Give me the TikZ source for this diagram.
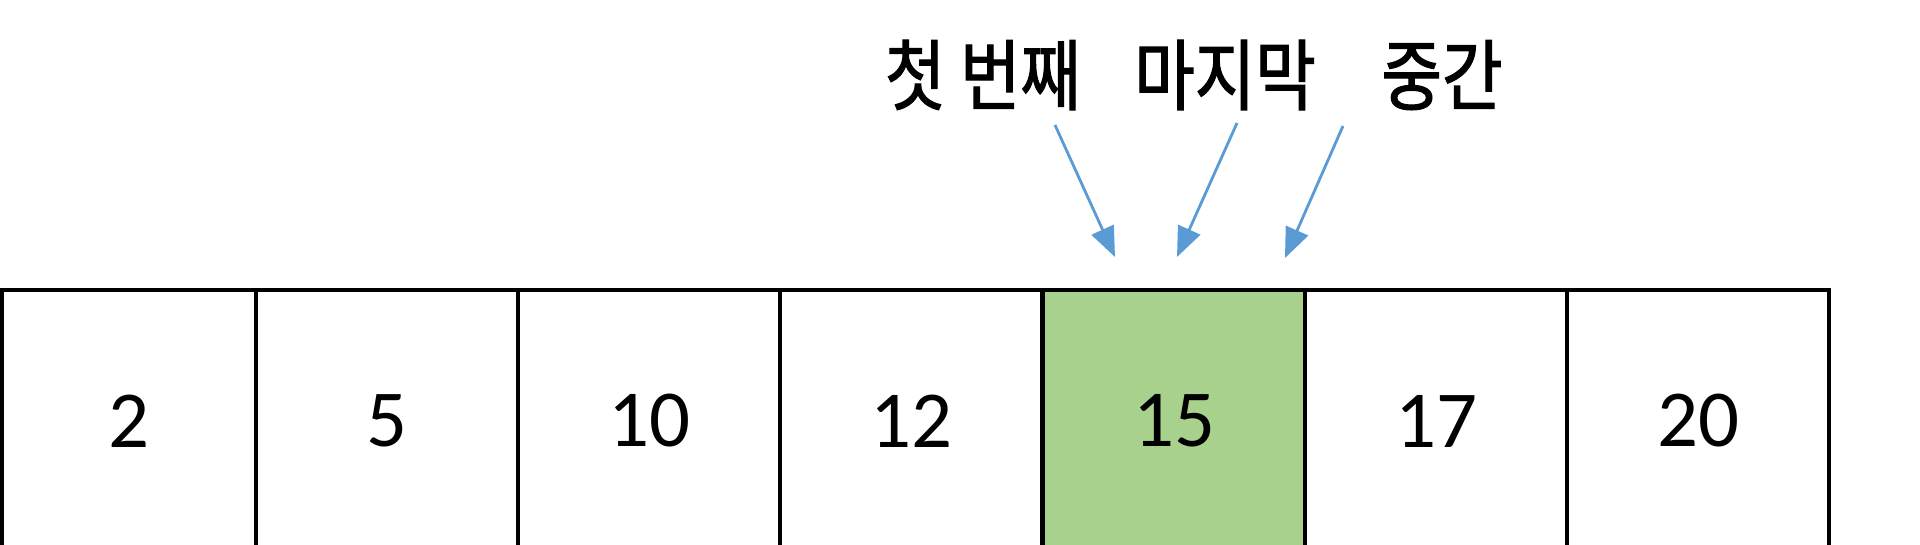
\documentclass[tikz,border=0pt]{standalone}
\usepackage{fontspec}
\setmainfont{Carlito}
\newfontfamily\kr{Noto Sans CJK KR}[FakeStretch=0.85,FakeBold=1.5]
\usetikzlibrary{arrows.meta}
\definecolor{cellgreen}{HTML}{A9D18E}
\definecolor{ptrblue}{HTML}{5B9BD5}
\begin{document}
\begin{tikzpicture}[x=0.01cm,y=-0.01cm,
    cell/.style={draw,line width=0.04cm,minimum width=2.62cm,minimum height=2.62cm,
      inner sep=0pt,outer sep=0pt,font=\fontsize{23}{28}\selectfont},
    tag/.style={inner sep=0pt,font=\kr\fontsize{22}{26}\selectfont},
    ptr/.style={-{Triangle[length=0.3cm,width=0.24cm]},line width=0.028cm,ptrblue}]
      \useasboundingbox (0,0) rectangle (1920,544);
      \path
        (129,421) node[cell,minimum width=2.54cm] (0){2}
        (387,421) node[cell] (1){5}
        (649,421) node[cell] (2){10}
        (911,421) node[cell] (3){12}
        (1174,421) node[cell,fill=cellgreen] (4){15}
        (1436,421) node[cell] (5){17}
        (1698,421) node[cell] (6){20};
      \path
        (983,75) node[tag] (first){첫 번째}
        (1225,75) node[tag] (last){마지막}
        (1442,75) node[tag] (mid){중간};
      \coordinate (first-s) at (1055,125);
      \coordinate (first-t) at (1115,257);
      \coordinate (last-s) at (1237,123);
      \coordinate (last-t) at (1177,257);
      \coordinate (mid-s) at (1343,126);
      \coordinate (mid-t) at (1285,258);
      \begin{scope}[ptr]
        \draw (first-s) to (first-t);
        \draw (last-s) to (last-t);
        \draw (mid-s) to (mid-t);
      \end{scope}
    \end{tikzpicture}
\end{document}
